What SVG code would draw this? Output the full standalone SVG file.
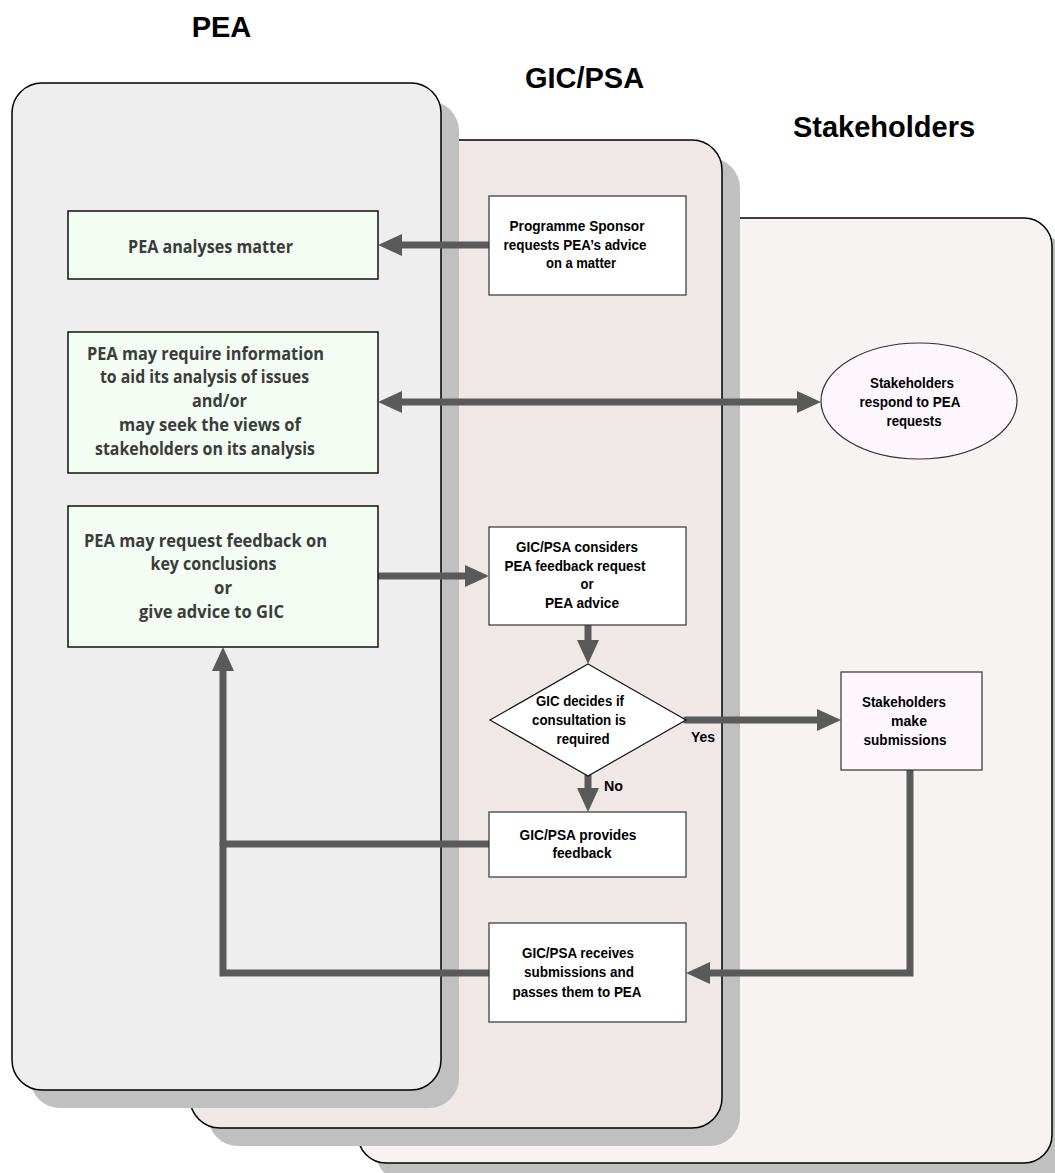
<svg xmlns="http://www.w3.org/2000/svg" width="1055" height="1173" viewBox="0 0 1055 1173">
<defs>
<marker id="ah" viewBox="0 0 24 22" refX="12" refY="11" markerWidth="24" markerHeight="22" markerUnits="userSpaceOnUse" orient="auto-start-reverse">
<path d="M0,0 L24,11 L0,22 z" fill="#5a5a5a"/>
</marker>
</defs>
<style>
.shadow{fill:#c0c0c0}
.lane{stroke:#000;stroke-width:1.5}
.title{font-family:"Liberation Sans",Arial,sans-serif;font-weight:bold;font-size:29px;fill:#000;text-anchor:middle}
.g{fill:#f3fdf3;stroke:#111;stroke-width:1.5}
.w{fill:#fff;stroke:#333;stroke-width:1.2}
.p{fill:#fdf7fd;stroke:#333;stroke-width:1.2}
.gt{font-family:"Open Sans","Noto Sans",sans-serif;font-weight:bold;font-size:17.5px;fill:#3c3c3c;text-anchor:middle}
.t{font-family:"Liberation Sans",Arial,sans-serif;font-weight:bold;font-size:14px;fill:#000;text-anchor:middle}
.lbl{font-family:"Liberation Sans",Arial,sans-serif;font-weight:bold;font-size:14px;fill:#000}
.c{fill:none;stroke:#5a5a5a;stroke-width:7;stroke-linecap:round;stroke-linejoin:miter}
</style>
<rect width="1055" height="1173" fill="#fff"/>
<g id="lane-stakeholders">
<rect class="shadow" x="376" y="236" width="694" height="945" rx="28"/>
<rect class="lane" x="358" y="218" width="694" height="945" rx="28" fill="#f6f3f2"/>
<text class="title" x="884" y="137">Stakeholders</text>
</g>
<g id="lane-gicpsa">
<rect class="shadow" x="208" y="158" width="532" height="988" rx="30"/>
<rect class="lane" x="190" y="140" width="532" height="988" rx="30" fill="#f0e8e6"/>
<text class="title" x="584.5" y="88">GIC/PSA</text>
</g>
<g id="lane-pea">
<rect class="shadow" x="30" y="101" width="429" height="1007" rx="30"/>
<rect class="lane" x="12" y="83" width="429" height="1007" rx="30" fill="#eeeeee"/>
<text class="title" x="221.5" y="37">PEA</text>
</g>
<g id="connectors">
<path class="c" d="M489,245 H390" marker-end="url(#ah)"/>
<path class="c" d="M390,402 H809" marker-start="url(#ah)" marker-end="url(#ah)"/>
<path class="c" d="M378,576 H477" marker-end="url(#ah)"/>
<path class="c" d="M588,625 V652" marker-end="url(#ah)"/>
<path class="c" d="M686,720 H829" marker-end="url(#ah)"/>
<path class="c" d="M588,776 V800" marker-end="url(#ah)"/>
<path class="c" d="M489,844 H223"/>
<path class="c" d="M489,973 H223 V659" marker-end="url(#ah)"/>
<path class="c" d="M910,770 V973 H698" marker-end="url(#ah)"/>
<text class="lbl" x="691" y="742" textLength="24" lengthAdjust="spacingAndGlyphs">Yes</text>
<text class="lbl" x="604" y="791" textLength="19" lengthAdjust="spacingAndGlyphs">No</text>
</g>
<g id="pea-analyses">
<rect class="g" x="68" y="211" width="310" height="68"/>
<text class="gt" x="210.5" y="252.5" textLength="165" lengthAdjust="spacingAndGlyphs">PEA analyses matter</text>
</g>
<g id="pea-require-info">
<rect class="g" x="68" y="332" width="310" height="141"/>
<text class="gt" x="205.5" y="360" textLength="237" lengthAdjust="spacingAndGlyphs">PEA may require information</text>
<text class="gt" x="204.5" y="383" textLength="209" lengthAdjust="spacingAndGlyphs">to aid its analysis of issues</text>
<text class="gt" x="219.5" y="407" textLength="55" lengthAdjust="spacingAndGlyphs">and/or</text>
<text class="gt" x="210" y="431" textLength="182" lengthAdjust="spacingAndGlyphs">may seek the views of</text>
<text class="gt" x="205" y="455" textLength="220" lengthAdjust="spacingAndGlyphs">stakeholders on its analysis</text>
</g>
<g id="pea-request-feedback">
<rect class="g" x="68" y="506" width="310" height="141"/>
<text class="gt" x="205.5" y="547" textLength="243" lengthAdjust="spacingAndGlyphs">PEA may request feedback on</text>
<text class="gt" x="213.5" y="570" textLength="126" lengthAdjust="spacingAndGlyphs">key conclusions</text>
<text class="gt" x="223" y="594" textLength="18" lengthAdjust="spacingAndGlyphs">or</text>
<text class="gt" x="211.5" y="618" textLength="145" lengthAdjust="spacingAndGlyphs">give advice to GIC</text>
</g>
<g id="programme-sponsor">
<rect class="w" x="489" y="196" width="197" height="99"/>
<text class="t" x="577" y="231" textLength="135" lengthAdjust="spacingAndGlyphs">Programme Sponsor</text>
<text class="t" x="575" y="250" textLength="143" lengthAdjust="spacingAndGlyphs">requests PEA’s advice</text>
<text class="t" x="581" y="268" textLength="70" lengthAdjust="spacingAndGlyphs">on a matter</text>
</g>
<g id="stakeholders-respond">
<ellipse class="p" cx="919" cy="401" rx="98" ry="58"/>
<text class="t" x="912" y="388" textLength="84" lengthAdjust="spacingAndGlyphs">Stakeholders</text>
<text class="t" x="910" y="407" textLength="101" lengthAdjust="spacingAndGlyphs">respond to PEA</text>
<text class="t" x="914" y="426" textLength="55" lengthAdjust="spacingAndGlyphs">requests</text>
</g>
<g id="gic-considers">
<rect class="w" x="489" y="527" width="197" height="98"/>
<text class="t" x="577" y="552" textLength="122" lengthAdjust="spacingAndGlyphs">GIC/PSA considers</text>
<text class="t" x="575" y="571" textLength="141" lengthAdjust="spacingAndGlyphs">PEA feedback request</text>
<text class="t" x="587" y="589" textLength="13" lengthAdjust="spacingAndGlyphs">or</text>
<text class="t" x="582" y="608" textLength="74" lengthAdjust="spacingAndGlyphs">PEA advice</text>
</g>
<g id="gic-decides">
<polygon points="588,664 686,720 588,776 490,720" fill="#fff" stroke="#111" stroke-width="1.2"/>
<text class="t" x="580" y="706" textLength="88" lengthAdjust="spacingAndGlyphs">GIC decides if</text>
<text class="t" x="579" y="725" textLength="94" lengthAdjust="spacingAndGlyphs">consultation is</text>
<text class="t" x="583" y="744" textLength="53" lengthAdjust="spacingAndGlyphs">required</text>
</g>
<g id="stakeholders-submit">
<rect class="p" x="841" y="672" width="141" height="98"/>
<text class="t" x="904" y="707" textLength="84" lengthAdjust="spacingAndGlyphs">Stakeholders</text>
<text class="t" x="909" y="726" textLength="36" lengthAdjust="spacingAndGlyphs">make</text>
<text class="t" x="905" y="745" textLength="83" lengthAdjust="spacingAndGlyphs">submissions</text>
</g>
<g id="gic-provides">
<rect class="w" x="489" y="812" width="197" height="65"/>
<text class="t" x="578" y="840" textLength="117" lengthAdjust="spacingAndGlyphs">GIC/PSA provides</text>
<text class="t" x="582" y="858" textLength="59" lengthAdjust="spacingAndGlyphs">feedback</text>
</g>
<g id="gic-receives">
<rect class="w" x="489" y="923" width="197" height="99"/>
<text class="t" x="578" y="958" textLength="112" lengthAdjust="spacingAndGlyphs">GIC/PSA receives</text>
<text class="t" x="579" y="977" textLength="110" lengthAdjust="spacingAndGlyphs">submissions and</text>
<text class="t" x="577" y="997" textLength="129" lengthAdjust="spacingAndGlyphs">passes them to PEA</text>
</g>
</svg>
